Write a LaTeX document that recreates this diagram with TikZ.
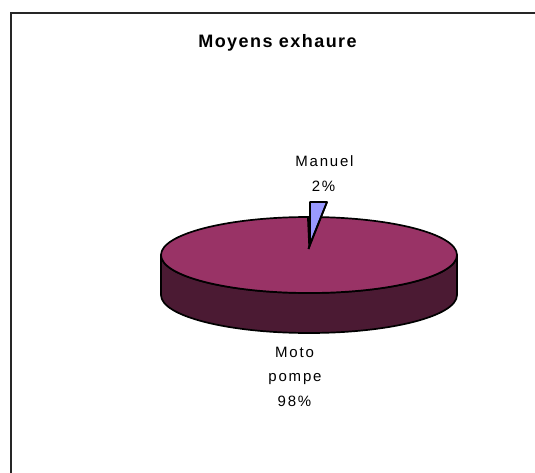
\documentclass[tikz,border=0pt]{standalone}
\usepackage{fontspec}
\setmainfont{Liberation Sans}
\definecolor{pietop}{HTML}{993366}
\definecolor{pieside}{HTML}{4B1A33}
\definecolor{slice}{HTML}{9999FF}
\begin{document}
\begin{tikzpicture}[x=1pt,y=-1pt,
  lbl/.style={inner sep=0pt,anchor=base,font=\fontsize{15}{17}\selectfont\addfontfeature{LetterSpace=12}},
  ttl/.style={inner sep=0pt,anchor=base,font=\fontsize{18}{20}\selectfont\bfseries\addfontfeature{LetterSpace=8}},
  edge/.style={draw=black,line width=1.7pt,line join=round}]
\useasboundingbox (0,0) rectangle (535,473);
\fill[white] (0,0) rectangle (535,473);
\coordinate (tl) at (11,13);
\coordinate (tr) at (535,13);
\coordinate (bl) at (11,473);
\draw[line width=1.4pt,black!85] (tr) -- (tl) -- (bl);
\node[ttl] (title) at (277.5,48) {Moyens exhaure};
% pie side
\path[edge,fill=pieside] (161,255) -- (161,295) arc[start angle=180,end angle=0,x radius=148,y radius=38] -- (457,255) arc[start angle=0,end angle=180,x radius=148,y radius=38] -- cycle;
% pie top
\path[edge,fill=pietop] (309,255) ellipse[x radius=148,y radius=38];
% exploded slice
\path[fill=black] (307,216) -- (310,216) -- (310,244) -- (308.5,249) -- cycle;
\path[edge,fill=slice] (310,202) -- (327,202) -- (310,244) -- cycle;
\path[edge] (310,202) -- (310,244) -- (308.5,249);
\path[edge] (327,202) -- (308.5,249);
\node[lbl] (m1) at (324.5,167) {Manuel};
\node[lbl] (m2) at (323.5,191) {2\%};
\node[lbl] (p1) at (294.5,357) {Moto};
\node[lbl] (p2) at (295,381) {pompe};
\node[lbl] (p3) at (294.5,406) {98\%};
\end{tikzpicture}
\end{document}
